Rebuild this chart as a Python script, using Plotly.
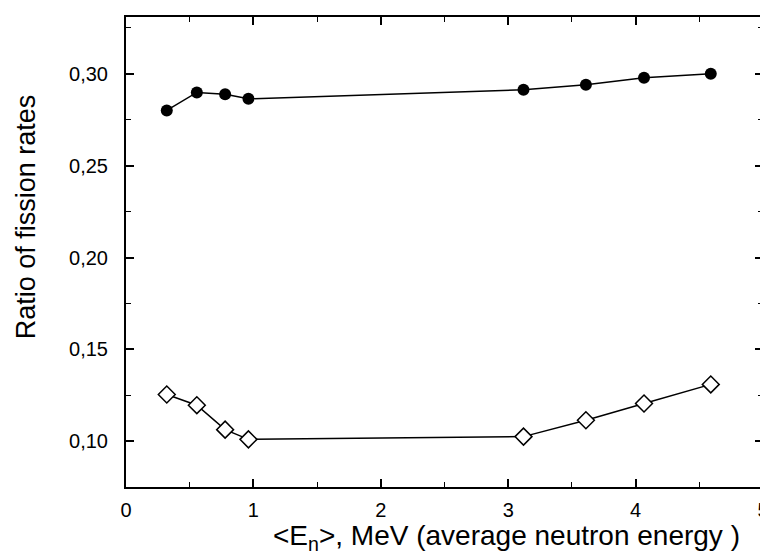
import plotly.graph_objects as go

energy = [0.32, 0.556, 0.778, 0.961, 3.12, 3.61, 4.066, 4.59]
ratio_filled = [0.2800, 0.2898, 0.2888, 0.2863, 0.2912, 0.2940, 0.2978, 0.2999]
ratio_open = [0.1255, 0.1197, 0.1064, 0.1011, 0.1026, 0.1115, 0.1206, 0.1310]

x_ticks = [0, 1, 2, 3, 4, 5]
x_ticktext = ["0", "1", "2", "3", "4", "5"]
y_ticks = [0.10, 0.15, 0.20, 0.25, 0.30]
y_ticktext = ["0,10", "0,15", "0,20", "0,25", "0,30"]

x_title = "&lt;E<sub>n</sub>&gt;, MeV (average neutron energy )"
y_title = "Ratio of fission rates"

fig = go.Figure()
fig.add_trace(go.Scatter(
    x=energy, y=ratio_filled, mode="lines+markers",
    line=dict(color="black", width=1.5),
    marker=dict(symbol="circle", size=12, color="black"),
    showlegend=False,
))
fig.add_trace(go.Scatter(
    x=energy, y=ratio_open, mode="lines+markers",
    line=dict(color="black", width=1.5),
    marker=dict(symbol="diamond", size=13, color="white",
                line=dict(color="black", width=1.5)),
    showlegend=False,
))

font = dict(family="Liberation Sans, Arial, sans-serif", color="black")
fig.update_layout(
    width=768, height=554,
    margin=dict(l=118, r=7, t=8, b=75),
    paper_bgcolor="white", plot_bgcolor="white",
    font=font,
    xaxis=dict(
        range=[0, 5], tickvals=x_ticks, ticktext=x_ticktext,
        ticks="inside", ticklen=8, tickwidth=1.5, tickcolor="black",
        minor=dict(dtick=0.5, ticks="inside", ticklen=5, tickwidth=1.2, tickcolor="black"),
        showline=True, linecolor="black", linewidth=2, mirror="allticks",
        showgrid=False, zeroline=False, ticklabelstandoff=4,
        tickfont=dict(size=20, **font),
    ),
    yaxis=dict(
        range=[0.0752, 0.3308], tickvals=y_ticks, ticktext=y_ticktext,
        ticks="inside", ticklen=8, tickwidth=1.5, tickcolor="black",
        minor=dict(dtick=0.025, tick0=0.075, ticks="inside", ticklen=5, tickwidth=1.2, tickcolor="black"),
        showline=True, linecolor="black", linewidth=2, mirror="allticks",
        showgrid=False, zeroline=False, ticklabelstandoff=12,
        tickfont=dict(size=20, **font),
    ),
    annotations=[
        dict(text=x_title, xref="paper", yref="paper", x=0.597, y=-0.108,
             xanchor="center", yanchor="middle", showarrow=False,
             font=dict(size=28, **font)),
        dict(text=y_title, xref="paper", yref="paper", x=-0.157, y=0.576,
             xanchor="center", yanchor="middle", textangle=-90, showarrow=False,
             font=dict(size=27, **font)),
    ],
)

fig.write_html("out.html")
